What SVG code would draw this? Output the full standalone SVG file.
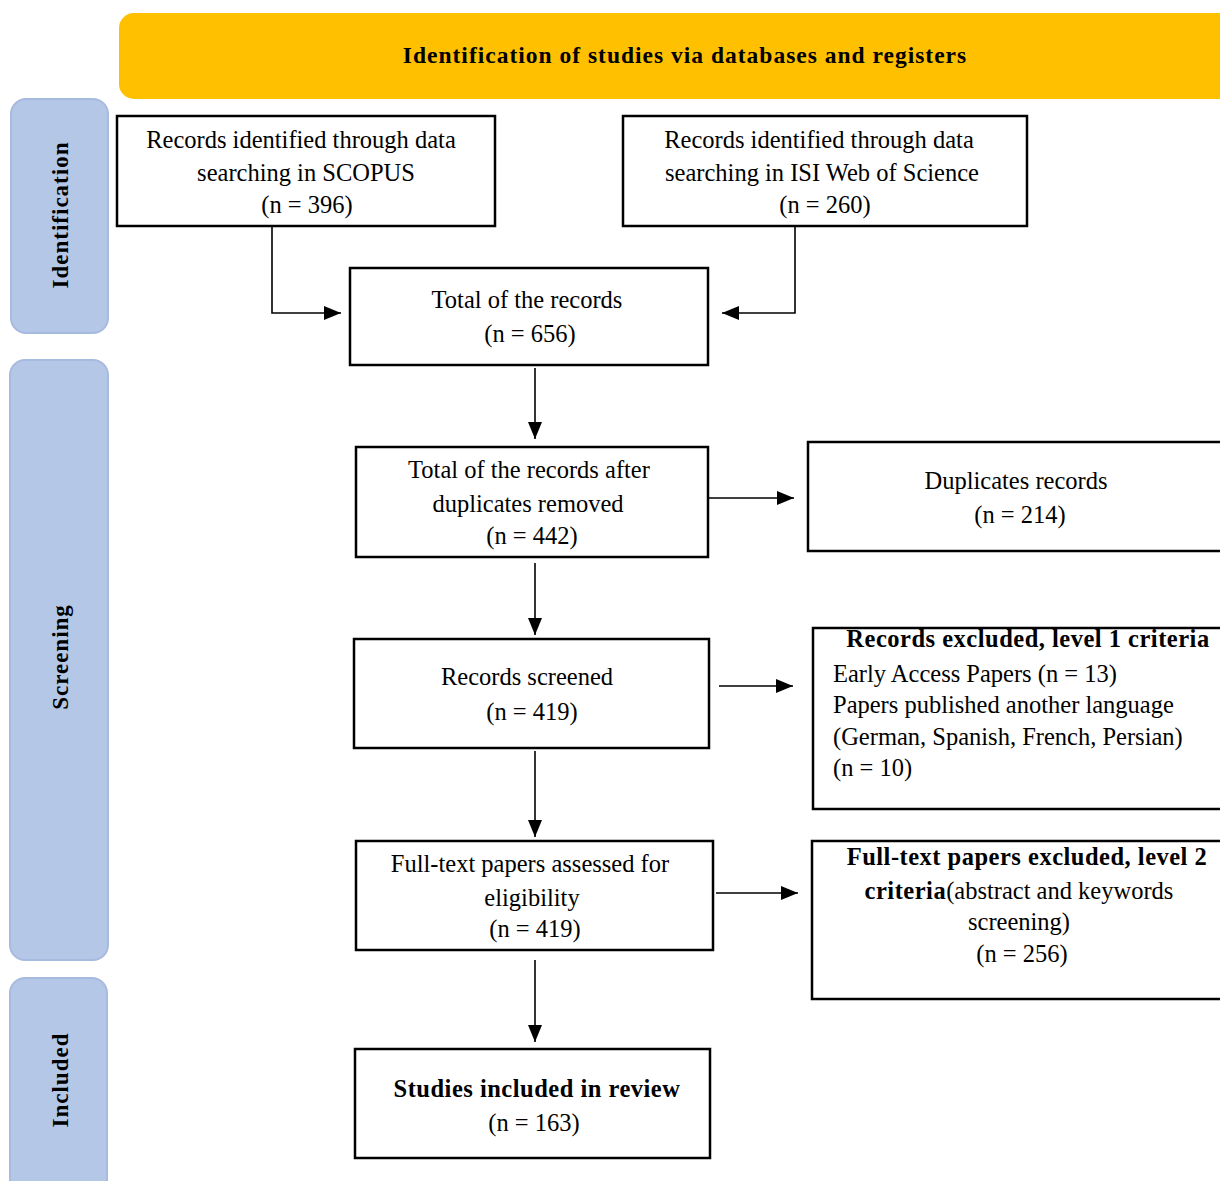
<svg xmlns="http://www.w3.org/2000/svg" width="1220" height="1181" viewBox="0 0 1220 1181">
<defs>
<marker id="ah" markerWidth="17" markerHeight="14" refX="17" refY="7" orient="auto" markerUnits="userSpaceOnUse" viewBox="0 0 17 14">
<path d="M0,0 L17,7 L0,14 Z" fill="#000"/>
</marker>
<style>
.box{fill:#fff;stroke:#000;stroke-width:2.5}
.side{fill:#B4C7E7;stroke:#A7BADF;stroke-width:2}
.t{font-family:"Liberation Serif",serif;font-size:24.5px;fill:#000}
.c{text-anchor:middle}
.b{font-weight:bold;letter-spacing:0.5px}
.side-t{font-family:"Liberation Serif",serif;font-size:23px;font-weight:bold;letter-spacing:1px;text-anchor:middle;fill:#000}
.ln{fill:none;stroke:#000;stroke-width:1.6}
</style>
</defs>
<rect width="1220" height="1181" fill="#fff"/>
<g id="header">
<rect x="119" y="13" width="1130" height="86" rx="15" fill="#FFC000"/>
<text class="t c b" x="685" y="63" style="font-size:23.5px;letter-spacing:1px">Identification of studies via databases and registers</text>
</g>
<g id="side-identification">
<rect class="side" x="11" y="99" width="97" height="234" rx="15"/>
<text class="side-t" transform="translate(68,215) rotate(-90)">Identification</text>
</g>
<g id="side-screening">
<rect class="side" x="10" y="360" width="98" height="600" rx="15"/>
<text class="side-t" transform="translate(68,657) rotate(-90)">Screening</text>
</g>
<g id="side-included">
<rect class="side" x="10" y="978" width="97" height="230" rx="15"/>
<text class="side-t" transform="translate(68,1080) rotate(-90)">Included</text>
</g>
<g id="n-scopus">
<rect class="box" x="117" y="116" width="378" height="110"/>
<text class="t c" x="301" y="148">Records identified through data</text>
<text class="t c" x="306" y="181">searching in SCOPUS</text>
<text class="t c" x="307" y="213">(n = 396)</text>
</g>
<g id="n-isi">
<rect class="box" x="623" y="116" width="404" height="110"/>
<text class="t c" x="819" y="148">Records identified through data</text>
<text class="t c" x="822" y="181">searching in ISI Web of Science</text>
<text class="t c" x="825" y="213">(n = 260)</text>
</g>
<g id="n-total">
<rect class="box" x="350" y="268" width="358" height="97"/>
<text class="t c" x="527" y="308">Total of the records</text>
<text class="t c" x="530" y="342">(n = 656)</text>
</g>
<g id="n-dedup">
<rect class="box" x="356" y="447" width="352" height="110"/>
<text class="t c" x="529" y="478">Total of the records after</text>
<text class="t c" x="528" y="512">duplicates removed</text>
<text class="t c" x="532" y="544">(n = 442)</text>
</g>
<g id="n-duplicates">
<rect class="box" x="808" y="442" width="430" height="109"/>
<text class="t c" x="1016" y="489">Duplicates records</text>
<text class="t c" x="1020" y="523">(n = 214)</text>
</g>
<g id="n-screened">
<rect class="box" x="354" y="639" width="355" height="109"/>
<text class="t c" x="527" y="685">Records screened</text>
<text class="t c" x="532" y="720">(n = 419)</text>
</g>
<g id="n-excluded1">
<rect class="box" x="813" y="628" width="425" height="181"/>
<text class="t c b" x="1028" y="647">Records excluded, level 1 criteria</text>
<text class="t" x="833" y="682">Early Access Papers (n = 13)</text>
<text class="t" x="833" y="713">Papers published another language</text>
<text class="t" x="833" y="745">(German, Spanish, French, Persian)</text>
<text class="t" x="833" y="776">(n = 10)</text>
</g>
<g id="n-fulltext">
<rect class="box" x="356" y="841" width="357" height="109"/>
<text class="t c" x="530" y="872">Full-text papers assessed for</text>
<text class="t c" x="532" y="906">eligibility</text>
<text class="t c" x="535" y="937">(n = 419)</text>
</g>
<g id="n-excluded2">
<rect class="box" x="812" y="841" width="426" height="158"/>
<text class="t c b" x="1027" y="865">Full-text papers excluded, level 2</text>
<text class="t c" x="1019" y="899"><tspan class="b">criteria</tspan>(abstract and keywords</text>
<text class="t c" x="1019" y="930">screening)</text>
<text class="t c" x="1022" y="962">(n = 256)</text>
</g>
<g id="n-included">
<rect class="box" x="355" y="1049" width="355" height="109"/>
<text class="t c b" x="537" y="1097">Studies included in review</text>
<text class="t c" x="534" y="1131">(n = 163)</text>
</g>
<g id="connectors">
<path class="ln" d="M272,226 V313 H341" marker-end="url(#ah)"/>
<path class="ln" d="M795,226 V313 H722" marker-end="url(#ah)"/>
<path class="ln" d="M535,368 V439" marker-end="url(#ah)"/>
<path class="ln" d="M535,563 V635" marker-end="url(#ah)"/>
<path class="ln" d="M535,751 V837" marker-end="url(#ah)"/>
<path class="ln" d="M535,960 V1042" marker-end="url(#ah)"/>
<path class="ln" d="M708,498 H794" marker-end="url(#ah)"/>
<path class="ln" d="M719,686 H793" marker-end="url(#ah)"/>
<path class="ln" d="M716,893 H798" marker-end="url(#ah)"/>
</g>
</svg>
